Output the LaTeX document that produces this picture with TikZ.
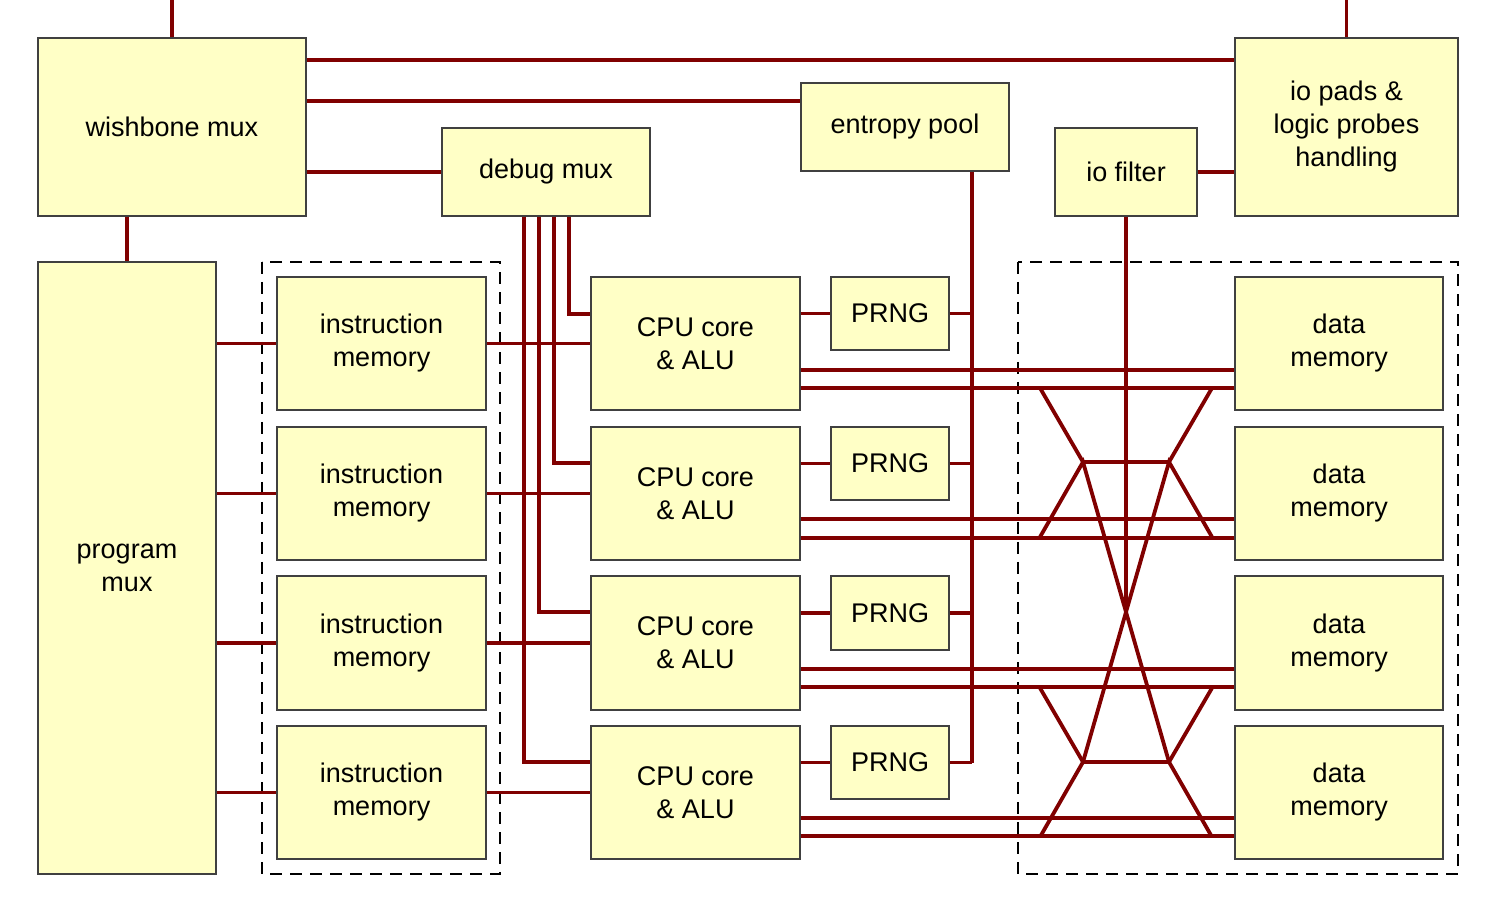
\documentclass[tikz,border=0pt]{standalone}
\usepackage{fontspec}
\setmainfont{Liberation Sans}
\usetikzlibrary{fit}
\definecolor{boxfill}{HTML}{FFFFC6}
\definecolor{wirec}{HTML}{800000}
\tikzset{
  box/.style={draw=black!75, fill=boxfill, line width=0.6pt, inner sep=0pt},
  txt/.style={align=center, font=\fontsize{13.5}{16.5}\selectfont},
  wire/.style={draw=wirec, line width=1.9pt},
  dbox/.style={draw=black, line width=0.75pt, dash pattern=on 6pt off 4pt},
}
\newcommand{\bx}[6]{\node[box, fit={(#2,#3) (#4,#5)}, label={[txt]center:{#6}}] (#1) {};}
\begin{document}
\begin{tikzpicture}[x=0.5pt,y=-0.5pt]
\useasboundingbox (0,0) rectangle (1497,913);
% dashed groups
\draw[dbox] (262,262) rectangle (500,874);
\draw[dbox] (1018,262) rectangle (1458,874);
% boxes
\bx{wb}{38}{38}{306}{216}{wishbone mux}
\bx{io}{1235}{38}{1458}{216}{io pads \&\\logic probes\\handling}
\bx{ent}{801}{83}{1009}{171}{entropy pool}
\bx{dbg}{442}{128}{650}{216}{debug mux}
\bx{iof}{1055}{128}{1197}{216}{io filter}
\bx{pm}{38}{262}{216}{874}{program\\mux}
\bx{im1}{277}{277}{486}{410}{instruction\\memory}
\bx{im2}{277}{427}{486}{560}{instruction\\memory}
\bx{im3}{277}{576}{486}{710}{instruction\\memory}
\bx{im4}{277}{726}{486}{859}{instruction\\memory}
\bx{c1}{591}{277}{800}{410}{CPU core\\\& ALU}
\bx{c2}{591}{427}{800}{560}{CPU core\\\& ALU}
\bx{c3}{591}{576}{800}{710}{CPU core\\\& ALU}
\bx{c4}{591}{726}{800}{859}{CPU core\\\& ALU}
\bx{p1}{831}{277}{949}{350}{PRNG}
\bx{p2}{831}{427}{949}{500}{PRNG}
\bx{p3}{831}{576}{949}{650}{PRNG}
\bx{p4}{831}{726}{949}{799}{PRNG}
\bx{d1}{1235}{277}{1443}{410}{data\\memory}
\bx{d2}{1235}{427}{1443}{560}{data\\memory}
\bx{d3}{1235}{576}{1443}{710}{data\\memory}
\bx{d4}{1235}{726}{1443}{859}{data\\memory}
% free ends
\coordinate (t1) at (172,0);
\coordinate (t2) at (1346.5,0);
\coordinate (xc) at (1126,612);
% wires
\draw[wire] (t1) -- (wb.north);
\draw[wire] (t2) -- (io.north);
\draw[wire] (wb.east |- 0,60) -- (io.west |- 0,60);
\draw[wire] (wb.east |- 0,101) -- (ent.west |- 0,101);
\draw[wire] (wb.east |- dbg.west) -- (dbg.west);
\draw[wire] (iof.east) -- (io.west |- iof.east);
\draw[wire] (wb.south -| pm.north) -- (pm.north);
\foreach \i in {1,2,3,4}{
  \draw[wire] (pm.east |- im\i.west) -- (im\i.west);
  \draw[wire] (im\i.east) -- (c\i.west);
  \draw[wire] (c\i.east |- p\i.west) -- (p\i.west);
  \draw[wire] (p\i.east) -- (p\i.east -| 972,0);
}
\draw[wire] (ent.south -| 972,0) -- (p4.east -| 972,0);
% debug mux
\draw[wire] (dbg.south -| 569,0) |- (c1.west |- 0,314);
\draw[wire] (dbg.south -| 554,0) |- (c2.west |- 0,463);
\draw[wire] (dbg.south -| 539,0) |- (c3.west |- 0,612);
\draw[wire] (dbg.south -| 524,0) |- (c4.west |- 0,762);
% cpu to data memory
\draw[wire] (c1.east |- 0,370) -- (d1.west |- 0,370);
\draw[wire] (c1.east |- 0,388) -- (d1.west |- 0,388);
\draw[wire] (c2.east |- 0,519) -- (d2.west |- 0,519);
\draw[wire] (c2.east |- 0,538) -- (d2.west |- 0,538);
\draw[wire] (c3.east |- 0,669) -- (d3.west |- 0,669);
\draw[wire] (c3.east |- 0,687) -- (d3.west |- 0,687);
\draw[wire] (c4.east |- 0,818) -- (d4.west |- 0,818);
\draw[wire] (c4.east |- 0,836) -- (d4.west |- 0,836);
% crossbar
\draw[wire] (iof.south) -- (xc);
\draw[wire] (1040,388) -- (1083,462) -- (1169,462) -- (1212,388);
\draw[wire] (1040,537) -- (1083,462) -- (1169,762) -- (1212,837);
\draw[wire] (1212,537) -- (1169,462) -- (1083,762) -- (1040,837);
\draw[wire] (1040,688) -- (1083,762) -- (1169,762) -- (1212,688);
\end{tikzpicture}
\end{document}
